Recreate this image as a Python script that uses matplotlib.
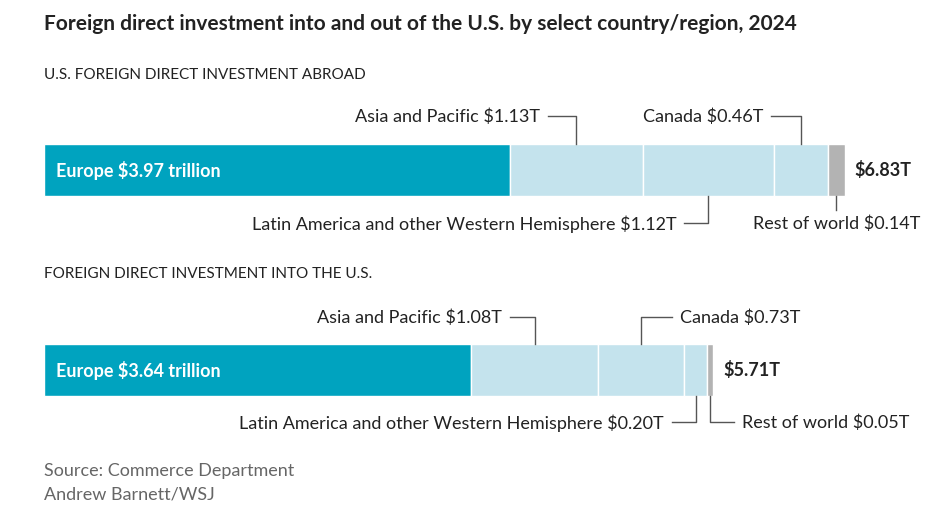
import matplotlib.pyplot as plt

# data (trillions of dollars, 2024)
regions_out = ['Europe', 'Asia and Pacific', 'Latin America and other Western Hemisphere',
               'Canada', 'Rest of world']
values_out = [3.97, 1.13, 1.12, 0.46, 0.14]
total_out = 6.83

regions_in = ['Europe', 'Asia and Pacific', 'Canada',
              'Latin America and other Western Hemisphere', 'Rest of world']
values_in = [3.64, 1.08, 0.73, 0.20, 0.05]
total_in = 5.71

# callout layout: (side, arm direction, arm px)
callouts_out = [('top', -1, 28), ('bottom', -1, 24), ('top', -1, 30), ('bottom', 0, 0)]
callouts_in = [('top', -1, 25), ('top', 1, 31), ('bottom', -1, 24), ('bottom', 1, 24)]

TEAL = '#00a3bf'
LIGHT = '#c4e3ed'
GREY = '#b3b3b3'
DARK = '#222222'
LINE = '#555555'

PX = 117.4  # pixels per trillion
W, H = 936, 532
LEFT = 44

plt.rcParams['font.family'] = ['Lato', 'DejaVu Sans']

fig = plt.figure(figsize=(W / 100, H / 100), dpi=100)
ax = fig.add_axes([0, 0, 1, 1])
ax.set_xlim(-LEFT / PX, (W - LEFT) / PX)
ax.set_ylim(H, 0)
ax.axis('off')


def px(n):
    return n / PX


def draw_bar(regions, values, total, callouts, yc, y_lab_top, y_lab_bot):
    h = 52
    colors = [TEAL] + [LIGHT] * (len(values) - 2) + [GREY]
    left = 0
    lefts = []
    for v, c in zip(values, colors):
        ax.barh(yc, v, left=left, height=h, color=c, edgecolor='white', linewidth=1)
        lefts.append(left)
        left += v
    ax.text(px(12), yc, f'{regions[0]} ${values[0]:.2f} trillion', color='white',
            fontsize=13, fontweight='bold', va='center', ha='left')
    ax.text(left + px(10), yc, f'${total:.2f}T', color=DARK, fontsize=13,
            fontweight='bold', va='center', ha='left')
    for i, (side, d, arm) in enumerate(callouts, start=1):
        mid = lefts[i] + values[i] / 2
        label = f'{regions[i]} ${values[i]:.2f}T'
        if side == 'top':
            y0, y1 = yc - h / 2, y_lab_top
        else:
            y0, y1 = yc + h / 2, y_lab_bot
        if d == 0:
            ax.plot([mid, mid], [y0, y0 + 14], color=LINE, lw=1)
            ax.text(mid, y1 + 1, label, color=DARK, fontsize=13, ha='center', va='center')
            continue
        ax.plot([mid, mid, mid + d * px(arm)], [y0, y1, y1], color=LINE, lw=1)
        tx = mid + d * px(arm + 8)
        ax.text(tx, y1 + 1, label, color=DARK, fontsize=13, va='center',
                ha='right' if d < 0 else 'left')


# title and subtitles
ax.text(0, 24, 'Foreign direct investment into and out of the U.S. by select country/region, 2024',
        fontsize=15, fontweight='bold', color=DARK, va='center', ha='left')
ax.text(0, 75, 'U.S. FOREIGN DIRECT INVESTMENT ABROAD', fontsize=11, color=DARK,
        va='center', ha='left')
ax.text(0, 274, 'FOREIGN DIRECT INVESTMENT INTO THE U.S.', fontsize=11, color=DARK,
        va='center', ha='left')

draw_bar(regions_out, values_out, total_out, callouts_out, 170, 116, 223)
draw_bar(regions_in, values_in, total_in, callouts_in, 370, 317, 422)

ax.text(0, 471, 'Source: Commerce Department', fontsize=13, color='#666666',
        va='center', ha='left')
ax.text(0, 495, 'Andrew Barnett/WSJ', fontsize=13, color='#666666',
        va='center', ha='left')

fig.savefig('out.png', dpi=100)
